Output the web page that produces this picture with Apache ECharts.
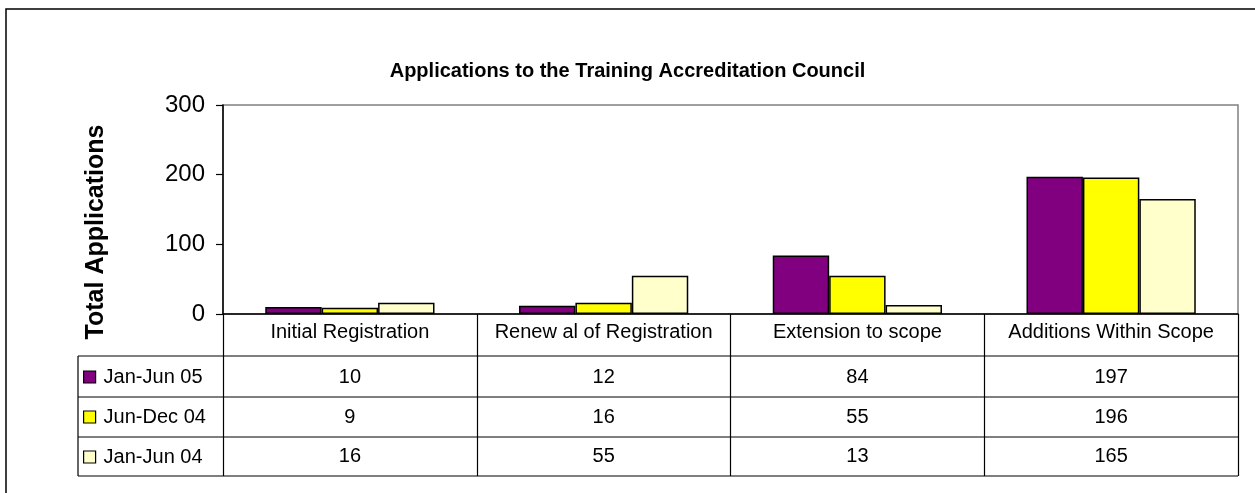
<!DOCTYPE html>
<html>
<head>
<meta charset="utf-8">
<title>Applications to the Training Accreditation Council</title>
<script src="https://cdn.jsdelivr.net/npm/echarts@6/dist/echarts.min.js"></script>
<style>
    html, body { margin: 0; padding: 0; background: #fff; }
    #grafico { width: 1255px; height: 493px; }
</style>
</head>
<body>
<div id="grafico"></div>
<script>
// Datos del grafico
const categorias = ['Initial Registration', 'Renew al of Registration', 'Extension to scope', 'Additions Within Scope'];
const nombresSeries = ['Jan-Jun 05', 'Jun-Dec 04', 'Jan-Jun 04'];
const janJun05 = [10, 12, 84, 197];
const junDec04 = [9, 16, 55, 196];
const janJun04 = [16, 55, 13, 165];
const ticksY = [0, 100, 200, 300];

const colores = ['#800080', '#FFFF00', '#FFFFCC'];
const fuente = 'Liberation Sans, Arial, sans-serif';

// Medidas del area de dibujo
const izq = 223;
const der = 1238;
const arriba = 105;
const abajo = 314;
const tablaIzq = 78;
const filas = [356, 397, 437, 476];

const chartDom = document.getElementById('grafico');
const myChart = echarts.init(chartDom);

function serie(nombre, datos, color) {
    return {
        name: nombre,
        type: 'bar',
        data: datos,
        barGap: 0,
        barCategoryGap: '33.3%',
        itemStyle: {
            color: color,
            borderColor: '#000',
            borderWidth: 1.5
        }
    };
}

// Lineas de la tabla de datos
const lineas = filas.map(y => ({
    type: 'line',
    shape: { x1: tablaIzq, y1: y, x2: der, y2: y },
    style: { stroke: '#000', lineWidth: 1.2 }
}));
lineas.push({
    type: 'line',
    shape: { x1: tablaIzq, y1: filas[0], x2: tablaIzq, y2: filas[3] },
    style: { stroke: '#000', lineWidth: 1.2 }
});

const option = {
    animation: false,
    title: {
        text: 'Applications to the Training Accreditation Council',
        left: 'center',
        top: 56,
        textStyle: { fontFamily: fuente, fontSize: 20, fontWeight: 'bold', color: '#000' }
    },
    legend: {
        orient: 'vertical',
        left: 83,
        top: 367,
        padding: 0,
        itemGap: 20,
        itemWidth: 12,
        itemHeight: 12,
        icon: 'rect',
        itemStyle: { borderColor: '#000', borderWidth: 1.2 },
        textStyle: { fontFamily: fuente, fontSize: 20, lineHeight: 20, color: '#000', padding: [0, 0, 0, 3] },
        data: nombresSeries
    },
    grid: {
        left: izq,
        right: 1255 - der,
        top: arriba,
        bottom: 493 - abajo,
        show: true,
        borderColor: '#808080',
        borderWidth: 1.5,
        containLabel: false,
        outerBoundsMode: 'none'
    },
    xAxis: {
        type: 'category',
        data: categorias,
        axisLine: { lineStyle: { color: '#000', width: 1.5 } },
        axisTick: { show: true, interval: 0, length: filas[3] - abajo, lineStyle: { color: '#000', width: 1.2 } },
        axisLabel: {
            interval: 0,
            margin: 0,
            color: '#000',
            fontFamily: fuente,
            fontSize: 20,
            formatter: (valor, i) => `{h|${valor}}\n{a|${janJun05[i]}}\n{b|${junDec04[i]}}\n{c|${janJun04[i]}}`,
            rich: {
                h: { fontFamily: fuente, fontSize: 20, lineHeight: 36 },
                a: { fontFamily: fuente, fontSize: 20, lineHeight: 54 },
                b: { fontFamily: fuente, fontSize: 20, lineHeight: 26 },
                c: { fontFamily: fuente, fontSize: 20, lineHeight: 52 }
            }
        }
    },
    yAxis: {
        type: 'value',
        min: ticksY[0],
        max: ticksY[ticksY.length - 1],
        interval: 100,
        splitLine: { show: false },
        axisLine: { show: true, lineStyle: { color: '#000', width: 1.5 } },
        axisTick: { show: true, length: 7, lineStyle: { color: '#000', width: 1.2 } },
        axisLabel: { color: '#000', fontFamily: fuente, fontSize: 24, margin: 18 }
    },
    graphic: [
        {
            type: 'rect',
            shape: { x: 6, y: 9, width: 1262, height: 500 },
            style: { fill: 'none', stroke: '#000', lineWidth: 1.5 },
            silent: true
        },
        {
            type: 'text',
            x: 96,
            y: 232,
            rotation: Math.PI / 2,
            style: {
                text: 'Total Applications',
                font: 'bold 25px ' + fuente,
                fill: '#000',
                align: 'center',
                verticalAlign: 'middle'
            }
        },
        ...lineas
    ],
    series: [
        serie(nombresSeries[0], janJun05, colores[0]),
        serie(nombresSeries[1], junDec04, colores[1]),
        serie(nombresSeries[2], janJun04, colores[2])
    ]
};

myChart.setOption(option);
</script>
</body>
</html>
